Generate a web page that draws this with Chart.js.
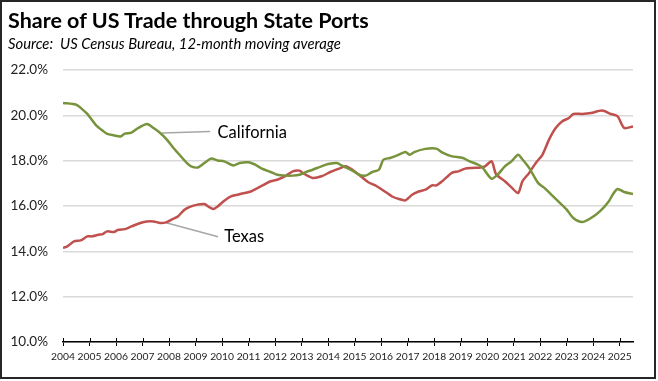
<!DOCTYPE html>
<html>
<head>
<meta charset="utf-8">
<script src="https://cdn.jsdelivr.net/npm/chart.js@4/dist/chart.umd.min.js"></script>
<style>
  html, body { margin: 0; padding: 0; background: #fff; }
  #wrap { position: relative; width: 658px; height: 381px; overflow: hidden; }
  #frame { position: absolute; left: 0; top: 0; width: 656px; height: 379px; box-sizing: border-box; border: 2px solid #262626; pointer-events: none; }
  #title { position: absolute; left: 8px; top: 7px; font: bold 21.5px Lato, sans-serif; color: #000; white-space: nowrap; }
  #subtitle { position: absolute; left: 8px; top: 34px; font: italic 14.8px Lato, sans-serif; color: #000; white-space: nowrap; }
  canvas { position: absolute; left: 0; top: 0; }
</style>
</head>
<body>
<div id="wrap">
  <canvas id="c" width="658" height="381"></canvas>
  <div id="title">Share of US Trade through State Ports</div>
  <div id="subtitle">Source:&nbsp; US Census Bureau, 12-month moving average</div>
  <div id="frame"></div>
</div>
<script>
// ---- Data (percent share of US trade, 12-month moving average) ----
const caDates = ['2004-01','2004-07','2004-09','2004-12','2005-02','2005-04','2005-07','2005-09','2005-12','2006-03','2006-05','2006-08','2006-11','2007-03','2007-06','2007-09','2007-12','2008-03','2008-05','2008-09','2008-11','2009-02','2009-05','2009-08','2009-11','2010-02','2010-06','2010-09','2011-01','2011-04','2011-07','2011-11','2012-02','2012-06','2012-09','2012-12','2013-03','2013-06','2013-10','2014-01','2014-05','2014-07','2014-09','2014-12','2015-03','2015-06','2015-09','2015-12','2016-02','2016-05','2016-08','2016-12','2017-02','2017-04','2017-09','2018-02','2018-05','2018-09','2019-02','2019-05','2019-09','2019-11','2020-03','2020-06','2020-09','2020-12','2021-03','2021-05','2021-08','2021-12','2022-03','2022-06','2022-10','2023-01','2023-04','2023-08','2023-12','2024-04','2024-08','2024-10','2024-12','2025-03','2025-07'];
const caShare = [20.55,20.47,20.33,20.06,19.81,19.56,19.32,19.18,19.12,19.07,19.19,19.24,19.44,19.62,19.44,19.22,18.93,18.56,18.34,17.90,17.75,17.70,17.90,18.09,18.01,17.97,17.79,17.90,17.93,17.82,17.65,17.50,17.38,17.34,17.34,17.38,17.50,17.60,17.75,17.85,17.90,17.79,17.70,17.56,17.38,17.34,17.50,17.60,18.04,18.12,18.22,18.38,18.26,18.38,18.52,18.53,18.34,18.19,18.12,17.97,17.82,17.68,17.20,17.41,17.75,17.97,18.26,18.05,17.68,17.02,16.79,16.50,16.13,15.84,15.47,15.29,15.47,15.76,16.20,16.53,16.75,16.62,16.53];

const txDates = ['2004-01','2004-03','2004-06','2004-09','2004-12','2005-02','2005-05','2005-07','2005-09','2005-12','2006-02','2006-05','2006-08','2006-12','2007-03','2007-06','2007-09','2007-12','2008-03','2008-05','2008-08','2008-11','2009-02','2009-05','2009-07','2009-09','2009-11','2010-02','2010-05','2010-08','2010-11','2011-02','2011-05','2011-08','2011-11','2012-02','2012-06','2012-09','2012-12','2013-02','2013-06','2013-10','2014-02','2014-06','2014-09','2014-12','2015-03','2015-07','2015-11','2016-03','2016-06','2016-09','2016-12','2017-03','2017-06','2017-09','2017-12','2018-02','2018-05','2018-09','2018-12','2019-03','2019-06','2019-10','2019-12','2020-03','2020-05','2020-09','2020-12','2021-03','2021-05','2021-08','2021-11','2022-02','2022-05','2022-08','2022-11','2023-02','2023-04','2023-08','2023-12','2024-05','2024-09','2024-12','2025-03','2025-07'];
const txShare = [14.15,14.22,14.44,14.48,14.66,14.66,14.73,14.76,14.88,14.85,14.95,14.98,15.10,15.25,15.32,15.32,15.25,15.29,15.44,15.54,15.84,15.98,16.06,16.09,15.96,15.87,15.98,16.23,16.42,16.50,16.57,16.64,16.79,16.94,17.09,17.16,17.34,17.53,17.56,17.43,17.24,17.31,17.50,17.65,17.75,17.60,17.38,17.06,16.87,16.62,16.42,16.31,16.25,16.50,16.64,16.72,16.91,16.91,17.12,17.46,17.53,17.65,17.68,17.70,17.75,17.97,17.41,17.09,16.82,16.57,17.10,17.46,17.90,18.26,18.93,19.44,19.74,19.88,20.06,20.06,20.10,20.21,20.06,19.96,19.44,19.51];

const yearTicks = [2004,2005,2006,2007,2008,2009,2010,2011,2012,2013,2014,2015,2016,2017,2018,2019,2020,2021,2022,2023,2024,2025];
const yTicks = [10,12,14,16,18,20,22];

// Callout labels: text, line start [year, %], line end [year, %], text anchor [year, %]
const calloutText = ['California', 'Texas'];
const calloutFrom = [[2007.74, 19.22], [2007.89, 15.26]];
const calloutTo   = [[2009.55, 19.29], [2009.85, 14.64]];
const calloutAt   = [[2009.83, 19.24], [2010.08, 14.64]];

// ---- helpers ----
const toYear = s => { const [y, m] = s.split('-').map(Number); return y + (m - 1) / 12; };
const pts = (dates, vals) => dates.map((d, i) => ({ x: toYear(d), y: vals[i] }));

const calloutPlugin = {
  id: 'callouts',
  beforeDatasetsDraw(chart) {
    const { ctx, scales: { x, y } } = chart;
    ctx.save();
    ctx.strokeStyle = '#a6a6a6';
    ctx.lineWidth = 1.5;
    calloutFrom.forEach((f, i) => {
      const t = calloutTo[i];
      ctx.beginPath();
      ctx.moveTo(x.getPixelForValue(f[0]), y.getPixelForValue(f[1]));
      ctx.lineTo(x.getPixelForValue(t[0]), y.getPixelForValue(t[1]));
      ctx.stroke();
    });
    ctx.restore();
  },
  afterDatasetsDraw(chart) {
    const { ctx, scales: { x, y } } = chart;
    ctx.save();
    ctx.fillStyle = '#000';
    ctx.font = '16.5px Lato, sans-serif';
    ctx.textAlign = 'left';
    ctx.textBaseline = 'middle';
    calloutText.forEach((txt, i) => {
      ctx.fillText(txt, x.getPixelForValue(calloutAt[i][0]), y.getPixelForValue(calloutAt[i][1]));
    });
    ctx.restore();
  },
  afterDraw(chart) {
    // upper half of the x-axis tick marks (Chart.js draws only the outer half)
    const { ctx, scales: { x, y } } = chart;
    const base = y.getPixelForValue(yTicks[0]);
    ctx.save();
    ctx.strokeStyle = '#000';
    ctx.lineWidth = 1;
    yearTicks.forEach(v => {
      const px = Math.round(x.getPixelForValue(v)) + 0.5;
      ctx.beginPath();
      ctx.moveTo(px, base - 4);
      ctx.lineTo(px, base);
      ctx.stroke();
    });
    ctx.restore();
  }
};

new Chart(document.getElementById('c'), {
  type: 'line',
  data: {
    datasets: [
      { label: 'California', data: pts(caDates, caShare), borderColor: '#77933C', borderWidth: 2.5, pointRadius: 0, tension: 0.25, fill: false },
      { label: 'Texas', data: pts(txDates, txShare), borderColor: '#C0504D', borderWidth: 2.5, pointRadius: 0, tension: 0.25, fill: false }
    ]
  },
  options: {
    responsive: false,
    animation: false,
    events: [],
    layout: { padding: { top: 70, right: 25, left: 0, bottom: 0 } },
    plugins: { legend: { display: false }, tooltip: { enabled: false }, title: { display: false } },
    scales: {
      x: {
        type: 'linear',
        min: 2004,
        max: 2025.5,
        afterBuildTicks: s => { s.ticks = yearTicks.map(v => ({ value: v })); },
        afterFit: s => { s.height = 39; },
        grid: { display: true, drawOnChartArea: false, drawTicks: true, tickLength: 4, color: '#000', lineWidth: 1 },
        border: { display: true, color: '#000', width: 1.5 },
        ticks: {
          autoSkip: false, maxRotation: 0, minRotation: 0, padding: 4,
          color: '#222', font: { family: 'Lato, sans-serif', size: 10.3 },
          callback: v => String(v)
        }
      },
      y: {
        min: 10,
        max: 22,
        afterBuildTicks: s => { s.ticks = yTicks.map(v => ({ value: v })); },
        afterFit: s => { s.width = 63; },
        grid: { color: '#d9d9d9', lineWidth: 1.5, drawTicks: false },
        border: { display: false },
        ticks: {
          padding: 15, color: '#222', font: { family: 'Lato, sans-serif', size: 13.5 },
          callback: v => v.toFixed(1) + '%'
        }
      }
    }
  },
  plugins: [calloutPlugin]
});
</script>
</body>
</html>
